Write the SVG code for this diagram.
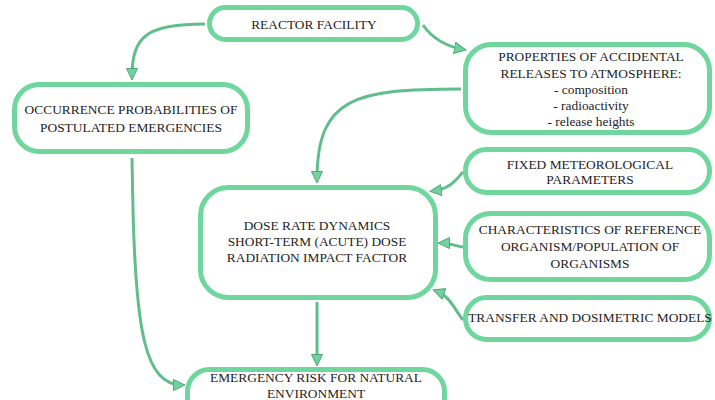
<svg xmlns="http://www.w3.org/2000/svg" width="715" height="400" viewBox="0 0 715 400">
<defs>
<style>
.box{fill:#ffffff;stroke:#6fd69d;stroke-width:5}
.t{font-family:'Liberation Serif','Times New Roman','DejaVu Serif',serif;font-size:13.4px;fill:#1e1e1e;text-anchor:middle}
.c{fill:none;stroke:#5fbe8b;stroke-width:3}
</style>
<marker id="arr" markerUnits="userSpaceOnUse" markerWidth="14" markerHeight="14" refX="9" refY="6" orient="auto">
<path d="M0.5,0.5 L12,6 L0.5,11.5 Z" fill="#72d29c" stroke="#4fa97a" stroke-width="1"/>
</marker>
</defs>
<rect width="715" height="400" fill="#ffffff"/>

<g id="connectors">
<path class="c" marker-end="url(#arr)" d="M205 24 C148 24 132 35 132 77"/>
<path class="c" marker-end="url(#arr)" d="M423 25 C432 38 445 46 463 49.5"/>
<path class="c" marker-end="url(#arr)" d="M461 89 C355 89 317 97 317 180"/>
<path class="c" marker-end="url(#arr)" d="M463 172 C456 180 450 189 433 191"/>
<path class="c" marker-end="url(#arr)" d="M463 247 C455 246 450 243 441 243"/>
<path class="c" marker-end="url(#arr)" d="M463 320 C455 310 450 296 436 291"/>
<path class="c" marker-end="url(#arr)" d="M317 302 L317 363"/>
<path class="c" marker-end="url(#arr)" d="M132 158 L133 210 C136 330 145 385 182 385"/>
</g>

<g id="reactor">
<rect class="box" x="209.5" y="7.5" width="208" height="32" rx="16"/>
<text class="t" x="314" y="28.5">REACTOR FACILITY</text>
</g>

<g id="occurrence">
<rect class="box" x="14.5" y="84.5" width="233" height="67" rx="25"/>
<text class="t" x="131" y="114">OCCURRENCE PROBABILITIES OF</text>
<text class="t" x="131" y="131.5">POSTULATED EMERGENCIES</text>
</g>

<g id="properties">
<rect class="box" x="465.5" y="44.5" width="244" height="88" rx="26"/>
<text class="t" x="591" y="61">PROPERTIES OF ACCIDENTAL</text>
<text class="t" x="591" y="77.5">RELEASES TO ATMOSPHERE:</text>
<text class="t" x="591" y="93.5">- composition</text>
<text class="t" x="591" y="109.5">- radioactivity</text>
<text class="t" x="591" y="125.5">- release heights</text>
</g>

<g id="meteo">
<rect class="box" x="465.5" y="149.5" width="244" height="43" rx="21"/>
<text class="t" x="590" y="168.5">FIXED METEOROLOGICAL</text>
<text class="t" x="590" y="184">PARAMETERS</text>
</g>

<g id="characteristics">
<rect class="box" x="465.5" y="213.5" width="244" height="66" rx="25"/>
<text class="t" x="590" y="233.5">CHARACTERISTICS OF REFERENCE</text>
<text class="t" x="590" y="251">ORGANISM/POPULATION OF</text>
<text class="t" x="590" y="267.5">ORGANISMS</text>
</g>

<g id="transfer">
<rect class="box" x="465.5" y="297.5" width="244" height="42" rx="21"/>
<text class="t" x="590" y="322">TRANSFER AND DOSIMETRIC MODELS</text>
</g>

<g id="dose">
<rect class="box" x="200.5" y="187.5" width="235" height="110" rx="28"/>
<text class="t" x="317" y="229.5">DOSE RATE DYNAMICS</text>
<text class="t" x="317" y="246">SHORT-TERM (ACUTE) DOSE</text>
<text class="t" x="317" y="262">RADIATION IMPACT FACTOR</text>
</g>

<g id="emergency">
<rect class="box" x="187.5" y="369.5" width="257" height="50" rx="22"/>
<text class="t" x="316" y="381.5">EMERGENCY RISK FOR NATURAL</text>
<text class="t" x="316" y="397.5">ENVIRONMENT</text>
</g>
</svg>
